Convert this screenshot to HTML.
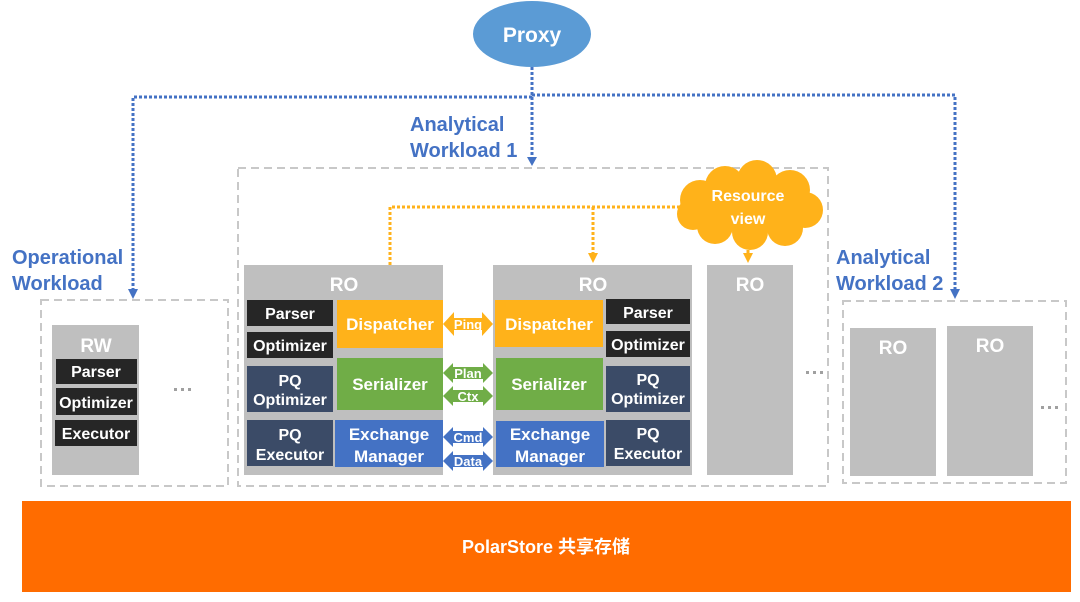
<!DOCTYPE html>
<html><head><meta charset="utf-8"><style>
html,body{margin:0;padding:0;background:#fff;width:1080px;height:602px;overflow:hidden}
text{font-family:"Liberation Sans","Noto Sans CJK SC",sans-serif;font-weight:bold}
</style></head><body>
<svg width="1080" height="602" viewBox="0 0 1080 602" xmlns="http://www.w3.org/2000/svg">
<g fill="none" stroke="#c8c8c8" stroke-width="2" stroke-dasharray="8,5">
<rect x="238" y="168" width="590" height="318"/>
<rect x="41" y="300" width="187" height="186"/>
<rect x="843" y="301" width="223" height="182"/>
</g>
<g fill="none" stroke="#4472c4" stroke-width="3" stroke-dasharray="3,2">
<path d="M532,67 V158"/>
<path d="M532,97 H133 V290"/>
<path d="M532,95 H955 V290"/>
</g>
<g fill="#4472c4">
<path d="M527,157 L537,157 L532,166 Z"/>
<path d="M128,289 L138,289 L133,299 Z"/>
<path d="M950,289 L960,289 L955,299 Z"/>
</g>
<ellipse cx="532" cy="34" rx="59" ry="33" fill="#5b9bd5"/>
<text x="532" y="42" fill="#fff" font-size="21" text-anchor="middle">Proxy</text>
<g fill="#4472c4" font-size="20">
<text x="410" y="131">Analytical</text><text x="410" y="157">Workload 1</text>
<text x="12" y="264">Operational</text><text x="12" y="290">Workload</text>
<text x="836" y="264">Analytical</text><text x="836" y="290">Workload 2</text>
</g>
<g fill="none" stroke="#ffb21a" stroke-width="3" stroke-dasharray="3,2">
<path d="M690,207 H390 V290"/>
<path d="M593,207 V254"/>
<path d="M748,235 V254"/>
</g>
<g fill="#ffb21a">
<path d="M385,289 L395,289 L390,299 Z"/>
<path d="M588,253 L598,253 L593,263 Z"/>
<path d="M743,253 L753,253 L748,263 Z"/>
</g>
<g fill="#ffb21a">
<ellipse cx="748" cy="207" rx="60" ry="25"/>
<circle cx="700" cy="200" r="20"/><circle cx="725" cy="186" r="20"/><circle cx="757" cy="180" r="20"/><circle cx="790" cy="190" r="20"/>
<circle cx="805" cy="210" r="18"/><circle cx="785" cy="228" r="18"/><circle cx="750" cy="232" r="18"/><circle cx="715" cy="226" r="18"/><circle cx="693" cy="214" r="16"/>
</g>
<text x="748" y="201" fill="#fff" font-size="16" text-anchor="middle">Resource</text>
<text x="748" y="224" fill="#fff" font-size="16" text-anchor="middle">view</text>
<g fill="#bfbfbf">
<rect x="52" y="325" width="87" height="150"/>
<rect x="244" y="265" width="199" height="210"/>
<rect x="493" y="265" width="199" height="210"/>
<rect x="707" y="265" width="86" height="210"/>
<rect x="850" y="328" width="86" height="148"/>
<rect x="947" y="326" width="86" height="150"/>
</g>
<g fill="#fff" font-size="19" text-anchor="middle">
<text x="96" y="352">RW</text><text x="344" y="291">RO</text><text x="593" y="291">RO</text><text x="750" y="291">RO</text>
<text x="893" y="354">RO</text><text x="990" y="352">RO</text>
</g>
<g fill="#262626">
<rect x="56" y="359" width="81" height="25"/><rect x="56" y="388" width="81" height="27"/><rect x="55" y="420" width="82" height="26"/>
<rect x="247" y="300" width="86" height="26"/><rect x="247" y="332" width="86" height="26"/>
<rect x="606" y="299" width="84" height="25"/><rect x="606" y="331" width="84" height="26"/>
</g>
<g fill="#3b4b67">
<rect x="247" y="366" width="86" height="46"/><rect x="247" y="420" width="86" height="46"/>
<rect x="606" y="366" width="84" height="46"/><rect x="606" y="420" width="84" height="46"/>
</g>
<rect x="337" y="300" width="106" height="48" fill="#ffb21a"/>
<rect x="495" y="300" width="108" height="47" fill="#ffb21a"/>
<rect x="337" y="358" width="106" height="52" fill="#70ad47"/>
<rect x="496" y="358" width="107" height="52" fill="#70ad47"/>
<rect x="335" y="420" width="108" height="47" fill="#4472c4"/>
<rect x="496" y="421" width="108" height="46" fill="#4472c4"/>
<g>
<path d="M443,324 L454,312 L454,318 L482,318 L482,312 L493,324 L482,336 L482,330 L454,330 L454,336 Z" fill="#ffb21a"/>
<path d="M443,373 L453,363 L453,367 L483,367 L483,363 L493,373 L483,383 L483,379 L453,379 L453,383 Z" fill="#70ad47"/>
<path d="M443,396 L453,386 L453,390 L483,390 L483,386 L493,396 L483,406 L483,402 L453,402 L453,406 Z" fill="#70ad47"/>
<path d="M443,437 L453,427 L453,431 L483,431 L483,427 L493,437 L483,447 L483,443 L453,443 L453,447 Z" fill="#4472c4"/>
<path d="M443,461 L453,451 L453,455 L483,455 L483,451 L493,461 L483,471 L483,467 L453,467 L453,471 Z" fill="#4472c4"/>
</g>
<g fill="#fff" font-size="13" text-anchor="middle">
<text x="468" y="329">Ping</text><text x="468" y="378">Plan</text><text x="468" y="401">Ctx</text>
<text x="468" y="442">Cmd</text><text x="468" y="466">Data</text>
</g>
<g fill="#fff" font-size="16" text-anchor="middle">
<text x="96" y="377">Parser</text><text x="96" y="408">Optimizer</text><text x="96" y="439">Executor</text>
<text x="290" y="319">Parser</text><text x="290" y="351">Optimizer</text>
<text x="648" y="318">Parser</text><text x="648" y="350">Optimizer</text>
<text x="290" y="386">PQ</text><text x="290" y="405">Optimizer</text>
<text x="290" y="440">PQ</text><text x="290" y="460">Executor</text>
<text x="648" y="385">PQ</text><text x="648" y="404">Optimizer</text>
<text x="648" y="439">PQ</text><text x="648" y="459">Executor</text>
</g>
<g fill="#fff" font-size="17" text-anchor="middle">
<text x="390" y="330">Dispatcher</text><text x="549" y="330">Dispatcher</text>
<text x="390" y="390">Serializer</text><text x="549" y="390">Serializer</text>
<text x="389" y="440">Exchange</text><text x="389" y="462">Manager</text>
<text x="550" y="440">Exchange</text><text x="550" y="462">Manager</text>
</g>
<g fill="#a0a0a0">
<rect x="174" y="388" width="3" height="3"/><rect x="181" y="388" width="3" height="3"/><rect x="188" y="388" width="3" height="3"/>
<rect x="806" y="371" width="3" height="3"/><rect x="813" y="371" width="3" height="3"/><rect x="820" y="371" width="3" height="3"/>
<rect x="1041" y="406" width="3" height="3"/><rect x="1048" y="406" width="3" height="3"/><rect x="1055" y="406" width="3" height="3"/>
</g>
<rect x="22" y="501" width="1049" height="91" fill="#ff6c00"/>
<text x="546" y="553" fill="#fff" font-size="18" text-anchor="middle">PolarStore 共享存储</text>
</svg>
</body></html>
